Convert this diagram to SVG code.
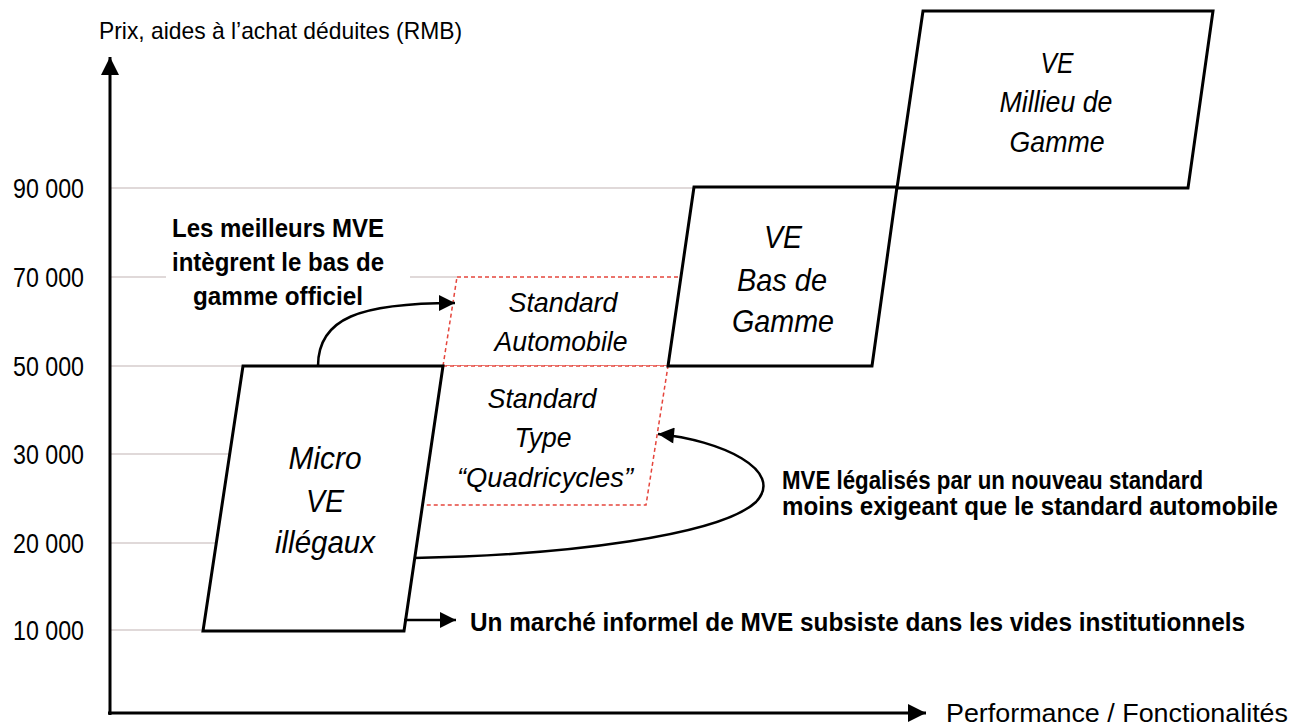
<svg xmlns="http://www.w3.org/2000/svg" width="1298" height="728" viewBox="0 0 1298 728">
<style>
text{font-family:"Liberation Sans",Arial,sans-serif;fill:#000}
.tick{font-size:27px}
.node{font-size:32px;font-style:italic;text-anchor:middle}
.mid{font-size:30px;font-style:italic;text-anchor:middle}
.std{font-size:28px;font-style:italic;text-anchor:middle}
.bold{font-size:25px;font-weight:bold}
.grid{stroke:#d6cccc;stroke-width:1.5;fill:none}
.box{stroke:#000;stroke-width:3;fill:#fff;stroke-linejoin:miter}
.dash{stroke:#e5453c;stroke-width:1.5;fill:none;stroke-dasharray:4 3}
.conn{stroke:#000;stroke-width:2.5;fill:none}
.axis{stroke:#000;stroke-width:3;fill:none}
</style>
<defs>
<marker id="ah" viewBox="0 0 10 10" refX="10" refY="5" markerWidth="20" markerHeight="16" markerUnits="userSpaceOnUse" orient="auto">
<path d="M0,0 L10,5 L0,10 z" fill="#000"/>
</marker>
<marker id="ax" viewBox="0 0 10 10" refX="10" refY="5" markerWidth="20" markerHeight="18" markerUnits="userSpaceOnUse" orient="auto">
<path d="M0,0 L10,5 L0,10 z" fill="#000"/>
</marker>
</defs>
<rect width="1298" height="728" fill="#fff"/>

<g id="grid">
<line class="grid" x1="110" y1="188" x2="694" y2="188"/>
<line class="grid" x1="110" y1="277" x2="457" y2="277"/>
<line class="grid" x1="110" y1="366" x2="243" y2="366"/>
<line class="grid" x1="110" y1="454" x2="230" y2="454"/>
<line class="grid" x1="110" y1="543" x2="217" y2="543"/>
<line class="grid" x1="110" y1="630" x2="203" y2="630"/>
</g>

<g id="axes">
<text x="99" y="39" style="font-size:24px" textLength="363" lengthAdjust="spacingAndGlyphs">Prix, aides à l’achat déduites (RMB)</text>
<text class="tick" x="13" y="198" textLength="71" lengthAdjust="spacingAndGlyphs">90 000</text>
<text class="tick" x="13" y="287" textLength="71" lengthAdjust="spacingAndGlyphs">70 000</text>
<text class="tick" x="13" y="376" textLength="71" lengthAdjust="spacingAndGlyphs">50 000</text>
<text class="tick" x="13" y="464" textLength="71" lengthAdjust="spacingAndGlyphs">30 000</text>
<text class="tick" x="13" y="553" textLength="71" lengthAdjust="spacingAndGlyphs">20 000</text>
<text class="tick" x="13" y="640" textLength="71" lengthAdjust="spacingAndGlyphs">10 000</text>
<text x="946" y="722" style="font-size:25px" textLength="342" lengthAdjust="spacingAndGlyphs">Performance / Fonctionalités</text>
</g>

<g id="std-auto">
<polygon class="dash" points="457,277 681,277 668,366 443,366" style="fill:#fff"/>
<text class="std" x="563" y="312" textLength="109" lengthAdjust="spacingAndGlyphs">Standard</text>
<text class="std" x="561" y="351" textLength="133" lengthAdjust="spacingAndGlyphs">Automobile</text>
</g>

<g id="std-quadri">
<polygon class="dash" points="443,366 668,366 646,505 423,505" style="fill:#fff"/>
<text class="std" x="542" y="408" textLength="109" lengthAdjust="spacingAndGlyphs">Standard</text>
<text class="std" x="543" y="447" textLength="57" lengthAdjust="spacingAndGlyphs">Type</text>
<text class="std" x="545" y="487" textLength="176" lengthAdjust="spacingAndGlyphs">“Quadricycles”</text>
</g>

<g id="micro-ve">
<polygon class="box" points="243,366 443,366 404,631 203,631"/>
<text class="node" x="325" y="469" textLength="73" lengthAdjust="spacingAndGlyphs">Micro</text>
<text class="node" x="325" y="512" textLength="38" lengthAdjust="spacingAndGlyphs">VE</text>
<text class="node" x="325" y="553" textLength="100" lengthAdjust="spacingAndGlyphs">illégaux</text>
</g>

<g id="ve-bas">
<polygon class="box" points="694,187 897,187 872,366 668,366"/>
<text class="node" x="783" y="248" textLength="38" lengthAdjust="spacingAndGlyphs">VE</text>
<text class="node" x="782" y="291" textLength="90" lengthAdjust="spacingAndGlyphs">Bas de</text>
<text class="node" x="783" y="332" textLength="102" lengthAdjust="spacingAndGlyphs">Gamme</text>
</g>

<g id="ve-milieu">
<polygon class="box" points="923,11 1213,11 1188,188 897,188"/>
<text class="mid" x="1057" y="73" textLength="33" lengthAdjust="spacingAndGlyphs">VE</text>
<text class="mid" x="1056" y="112" textLength="113" lengthAdjust="spacingAndGlyphs">Millieu de</text>
<text class="mid" x="1057" y="152" textLength="95" lengthAdjust="spacingAndGlyphs">Gamme</text>
</g>

<g id="label-meilleurs">
<rect x="166" y="212" width="244" height="100" fill="#fff"/>
<text class="bold" x="278" y="237" text-anchor="middle" textLength="212" lengthAdjust="spacingAndGlyphs">Les meilleurs MVE</text>
<text class="bold" x="278" y="271" text-anchor="middle" textLength="212" lengthAdjust="spacingAndGlyphs">intègrent le bas de</text>
<text class="bold" x="278" y="305" text-anchor="middle" textLength="170" lengthAdjust="spacingAndGlyphs">gamme officiel</text>
</g>

<g id="label-legalises">
<text class="bold" x="782" y="489" textLength="421" lengthAdjust="spacingAndGlyphs">MVE légalisés par un nouveau standard</text>
<text class="bold" x="782" y="515" textLength="496" lengthAdjust="spacingAndGlyphs">moins exigeant que le standard automobile</text>
</g>

<g id="label-informel">
<text class="bold" x="470" y="631" style="font-size:26px" textLength="775" lengthAdjust="spacingAndGlyphs">Un marché informel de MVE subsiste dans les vides institutionnels</text>
</g>

<g id="connectors">
<path class="axis" d="M110,715 L110,57" marker-end="url(#ax)"/>
<path class="axis" d="M108,713 L926,713" marker-end="url(#ax)"/>
<path class="conn" d="M318,366 C318,318 360,303 455,303" marker-end="url(#ah)"/>
<path class="conn" d="M414,558 C570,555 720,535 756,502 C786,470 720,440 658,434" marker-end="url(#ah)"/>
<path class="conn" d="M404,620 L456,620" marker-end="url(#ah)"/>
</g>
</svg>
